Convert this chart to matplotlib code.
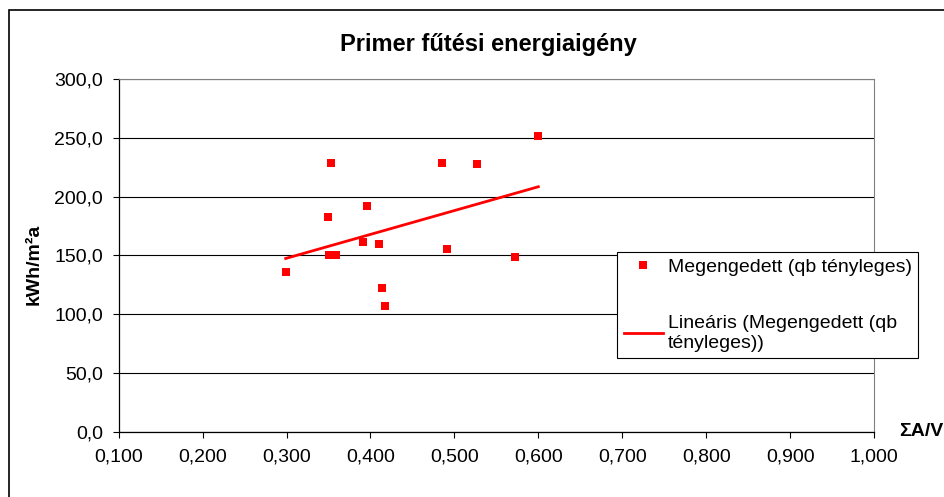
import numpy as np
import matplotlib
matplotlib.use('Agg')
import matplotlib.pyplot as plt
from matplotlib.patches import Rectangle
from matplotlib.ticker import FuncFormatter, MultipleLocator

plt.rcParams['font.family'] = ['Liberation Sans', 'DejaVu Sans']

# values
sum_a_per_v = [0.299, 0.353, 0.3495, 0.396, 0.391, 0.410, 0.351, 0.3595,
               0.414, 0.4175, 0.485, 0.527, 0.491, 0.572, 0.600]
energy_need = [135.6, 228.5, 182.6, 192.2, 161.1, 159.7, 150.3, 150.3,
               122.0, 107.2, 228.5, 227.4, 155.7, 148.9, 251.5]

title = 'Primer fűtési energiaigény'
series_label = 'Megengedett (qb tényleges)'
trend_label = 'Lineáris (Megengedett (qb\ntényleges))'

x = np.array(sum_a_per_v)
y = np.array(energy_need)

fig = plt.figure(figsize=(9.45, 4.97), dpi=100)
ax = fig.add_axes([118.7 / 945, 1 - 431.7 / 497, 755.3 / 945, 352.7 / 497])

ax.plot(x, y, linestyle='none', marker='s', markersize=6.3, color='#ff0000',
        markeredgewidth=0, label=series_label, zorder=3)

# linear trend line, like Excel's
slope, icpt = np.polyfit(x, y, 1)
xt = np.array([x.min(), x.max()])
ax.plot(xt, slope * xt + icpt, color='#ff0000', lw=2, label=trend_label, zorder=2)

ax.set_xlim(0.1, 1.0)
ax.set_ylim(0, 300)
ax.xaxis.set_major_locator(MultipleLocator(0.1))
ax.yaxis.set_major_locator(MultipleLocator(50))
ax.xaxis.set_major_formatter(FuncFormatter(lambda v, p: f'{v:.3f}'.replace('.', ',')))
ax.yaxis.set_major_formatter(FuncFormatter(lambda v, p: f'{v:.1f}'.replace('.', ',')))
ax.tick_params(direction='out', length=4.3, width=0.8, labelsize=14, color='black')
ax.tick_params(axis='y', pad=7)
ax.tick_params(axis='x', pad=8)

ax.grid(axis='y', color='black', lw=0.8)
ax.set_axisbelow(True)
for side in ['left', 'bottom']:
    ax.spines[side].set_color('black')
    ax.spines[side].set_linewidth(0.9)
ax.spines['top'].set_color('#808080')
ax.spines['right'].set_color('#808080')

ax.set_ylabel('kWh/m²a', fontsize=14, fontweight='bold')
ax.yaxis.set_label_coords(-0.1003, 0.4755)
ax.text(1.063, 0.0, 'ΣA/V', transform=ax.transAxes, ha='center', va='center',
        fontsize=14, fontweight='bold')

fig.text(488 / 945, 1 - 44 / 497, title, ha='center', va='center',
         fontsize=17, fontweight='bold')

leg = ax.legend(loc='upper left', bbox_to_anchor=(617 / 945, 1 - 251.7 / 497),
                bbox_transform=fig.transFigure, fontsize=14, frameon=True,
                fancybox=False, framealpha=1, edgecolor='black',
                handlelength=2.0, handletextpad=0.25, labelspacing=2.0,
                borderpad=0.35, borderaxespad=0)
leg.get_frame().set_linewidth(0.8)

fig.add_artist(Rectangle((9.5 / 945, -0.2), 1.2, 1.2 - 10 / 497,
                         transform=fig.transFigure, fill=False,
                         edgecolor='black', lw=1.2))

fig.savefig('out.png', dpi=100, facecolor='white')
